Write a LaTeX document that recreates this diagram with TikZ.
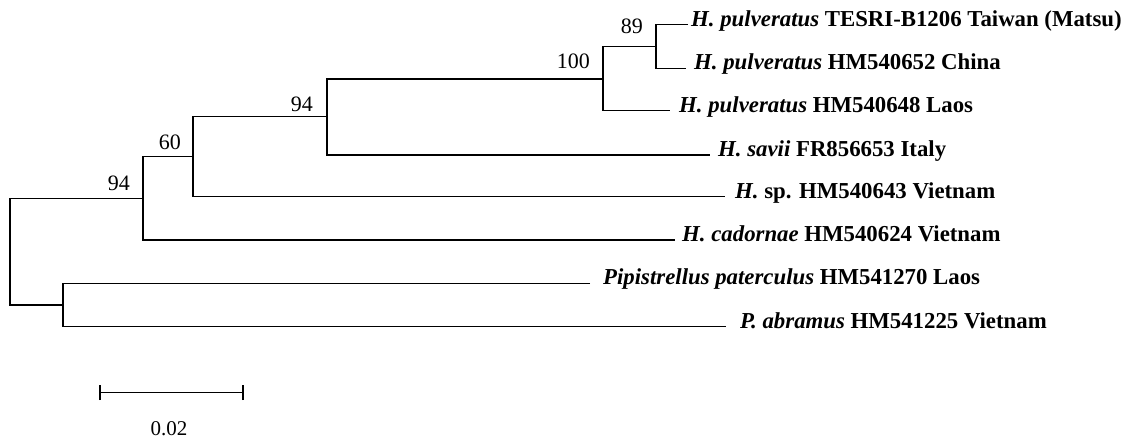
\documentclass[tikz,border=0pt]{standalone}
\usepackage{fontspec}
\setmainfont{Liberation Serif}
\begin{document}
\begin{tikzpicture}[x=1pt,y=-1pt,
  branch/.style={line width=1.5pt, line join=miter},
  taxon/.style={anchor=base west, inner sep=0pt, font=\fontsize{22.8}{27}\selectfont\bfseries},
  boot/.style={anchor=base east, inner sep=0pt, font=\fontsize{22}{26}\selectfont},
  scalelabel/.style={anchor=base, inner sep=0pt, font=\fontsize{21}{25}\selectfont}]
\useasboundingbox (0,0) rectangle (1130,442);

% internal nodes
\coordinate (root) at (10,198.4);
\coordinate (nA) at (143,198.4);
\coordinate (nB) at (193,156.7);
\coordinate (nC) at (327,116.7);
\coordinate (nD) at (603,79);
\coordinate (nE) at (656,46.4);
\coordinate (nP) at (63,305);

% branch tips
\coordinate (t1) at (688,24.5);
\coordinate (t2) at (686,68.3);
\coordinate (t3) at (670,110.5);
\coordinate (t4) at (710,155);
\coordinate (t5) at (725,196.7);
\coordinate (t6) at (675,240);
\coordinate (t7) at (590,283.3);
\coordinate (t8) at (726,326.7);

% branches
\draw[branch] (t1) -| (nE) |- (t2);
\draw[branch] (nE) -| (nD) |- (t3);
\draw[branch] (nD) -| (nC) |- (t4);
\draw[branch] (nC) -| (nB) |- (t5);
\draw[branch] (nB) -| (nA) |- (t6);
\draw[branch] (nA) -| (root) |- (nP);
\draw[branch] (t7) -| (nP) |- (t8);

% taxon labels
\node[taxon] (L1) at ([shift={(3,1.5)}]t1) {\textit{H. pulveratus} TESRI-B1206 Taiwan (Matsu)};
\node[taxon] (L2) at ([shift={(8,1.5)}]t2) {\textit{H. pulveratus} HM540652 China};
\node[taxon] (L3) at ([shift={(9,1.5)}]t3) {\textit{H. pulveratus} HM540648 Laos};
\node[taxon] (L4) at ([shift={(8,1.5)}]t4) {\textit{H. savii} FR856653 Italy};
\node[taxon] (L5) at ([shift={(10,1.5)}]t5) {\textit{H.} sp. HM540643 Vietnam};
\node[taxon] (L6) at ([shift={(7,1.5)}]t6) {\textit{H. cadornae} HM540624 Vietnam};
\node[taxon] (L7) at ([shift={(13,1.5)}]t7) {\textit{Pipistrellus paterculus} HM541270 Laos};
\node[taxon] (L8) at ([shift={(14,1.5)}]t8) {\textit{P. abramus} HM541225 Vietnam};

% bootstrap values
\node[boot] (b89) at ([shift={(-13,-13)}]nE) {89};
\node[boot] (b100) at ([shift={(-13,-11)}]nD) {100};
\node[boot] (b94a) at ([shift={(-14,-5)}]nC) {94};
\node[boot] (b60) at ([shift={(-12,-7)}]nB) {60};
\node[boot] (b94b) at ([shift={(-13,-8)}]nA) {94};

% scale bar
\coordinate (s1) at (100,392.7);
\coordinate (s2) at (243,392.7);
\draw[branch] (s1) -- (s2);
\draw[branch] ([yshift=-7.5]s1) -- ([yshift=7.5]s1);
\draw[branch] ([yshift=-7.5]s2) -- ([yshift=7.5]s2);
\node[scalelabel] (sl) at (169,435) {0.02};
\end{tikzpicture}
\end{document}
